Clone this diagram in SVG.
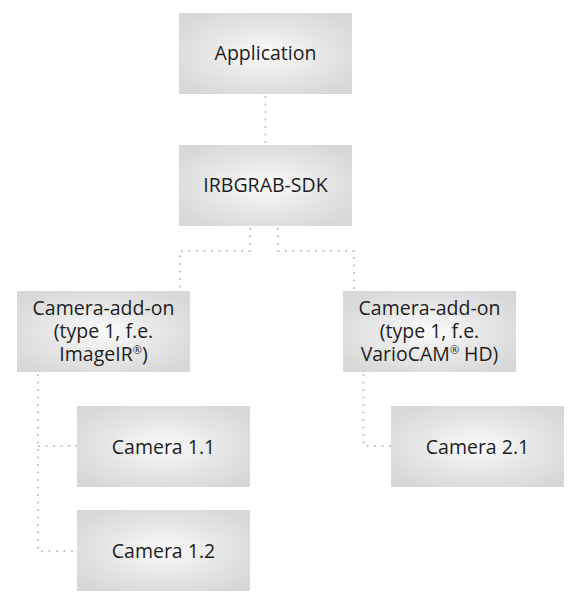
<svg xmlns="http://www.w3.org/2000/svg" width="583" height="603" viewBox="0 0 583 603">
<style>
.box{fill:url(#g);}
.t{font-family:"Open Sans","Noto Sans",sans-serif;font-size:19.5px;fill:#1e1e1e;text-anchor:middle;}
.c{fill:none;stroke:#c9c9c9;stroke-width:2;stroke-dasharray:2 5.5;}
.r{font-size:11px;}
</style>
<defs>
<radialGradient id="g" cx="0.5" cy="0.5" r="0.6">
<stop offset="0" stop-color="#fbfbfb"/>
<stop offset="0.55" stop-color="#e6e6e6"/>
<stop offset="1" stop-color="#d8d8d8"/>
</radialGradient>
</defs>
<rect width="583" height="603" fill="#ffffff"/>
<g id="connectors">
<path class="c" d="M265.5 96 V145"/>
<path class="c" d="M250 228 V251 H180 V291"/>
<path class="c" d="M278 228 V251 H354 V291"/>
<path class="c" d="M38 374 V551 H77"/>
<path class="c" d="M38 446 H77"/>
<path class="c" d="M363.5 374 V446 H391"/>
</g>
<g id="application">
<rect class="box" x="179" y="13" width="173" height="81"/>
<text class="t" x="265.5" y="60">Application</text>
</g>
<g id="sdk">
<rect class="box" x="179" y="145" width="173" height="81"/>
<text class="t" x="265.5" y="192">IRBGRAB-SDK</text>
</g>
<g id="addon1">
<rect class="box" x="17" y="291" width="173" height="81"/>
<text class="t" x="103.5" y="315">Camera-add-on</text>
<text class="t" x="103.5" y="338">(type 1, f.e.</text>
<text class="t" x="103.5" y="361">ImageIR<tspan class="r" dy="-7">®</tspan><tspan dy="7">)</tspan></text>
</g>
<g id="addon2">
<rect class="box" x="343" y="291" width="173" height="81"/>
<text class="t" x="429.5" y="315">Camera-add-on</text>
<text class="t" x="429.5" y="338">(type 1, f.e.</text>
<text class="t" x="429.5" y="361">VarioCAM<tspan class="r" dy="-7">®</tspan><tspan dy="7"> HD)</tspan></text>
</g>
<g id="camera11">
<rect class="box" x="77" y="406" width="173" height="81"/>
<text class="t" x="163.5" y="454">Camera 1.1</text>
</g>
<g id="camera12">
<rect class="box" x="77" y="510" width="173" height="81"/>
<text class="t" x="163.5" y="558">Camera 1.2</text>
</g>
<g id="camera21">
<rect class="box" x="391" y="406" width="173" height="81"/>
<text class="t" x="477.5" y="454">Camera 2.1</text>
</g>
</svg>
